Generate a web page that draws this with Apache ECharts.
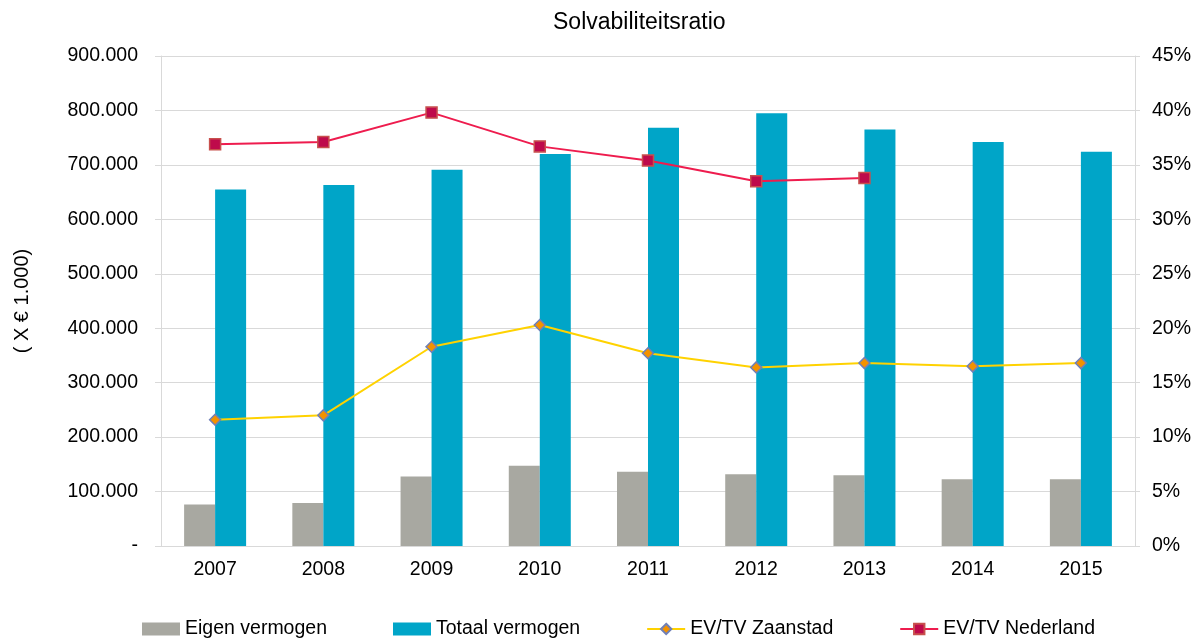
<!DOCTYPE html>
<html>
<head>
<meta charset="utf-8">
<script src="https://cdn.jsdelivr.net/npm/echarts@6/dist/echarts.min.js"></script>
<style>
  html, body { margin: 0; padding: 0; background: #fff; }
  #chart { width: 1201px; height: 638px; }
</style>
</head>
<body>
<div id="chart"></div>
<script>
// Data
const years = ['2007', '2008', '2009', '2010', '2011', '2012', '2013', '2014', '2015'];
const eigenVermogen = [76000, 79000, 127500, 147500, 136500, 132000, 130000, 122500, 122500];
const totaalVermogen = [655000, 663000, 691000, 720000, 768000, 795000, 765000, 742000, 724000];
const evtvZaanstad = [0.116, 0.120, 0.183, 0.203, 0.177, 0.164, 0.168, 0.165, 0.168];
const evtvNederland = [0.369, 0.371, 0.398, 0.367, 0.354, 0.335, 0.338, null, null];

const font = 'Liberation Sans, Arial, sans-serif';
const gridColor = '#d9d9d9';

function formatThousands(v) {
    if (v === 0) return '-';
    return String(v).replace(/\B(?=(\d{3})+(?!\d))/g, '.');
}

const chart = echarts.init(document.getElementById('chart'));
chart.setOption({
    animation: false,
    textStyle: {fontFamily: font},
    title: {
        text: 'Solvabiliteitsratio',
        left: 548,
        top: 6,
        textStyle: {fontFamily: font, fontSize: 23, fontWeight: 'normal', color: '#000'}
    },
    legend: {
        top: 614,
        left: 137,
        itemWidth: 38,
        itemHeight: 13,
        itemGap: 66,
        textStyle: {fontFamily: font, fontSize: 19.5, color: '#000'},
        data: [
            {name: 'Eigen vermogen', icon: 'rect'},
            {name: 'Totaal vermogen', icon: 'rect'},
            'EV/TV Zaanstad',
            'EV/TV Nederland'
        ]
    },
    grid: {left: 161, right: 66, top: 56, bottom: 92},
    xAxis: {
        type: 'category',
        data: years,
        axisLine: {lineStyle: {color: gridColor}},
        axisTick: {length: 6, lineStyle: {color: gridColor}},
        axisLabel: {fontFamily: font, fontSize: 19.5, color: '#000', margin: 14}
    },
    yAxis: [
        {
            type: 'value',
            min: 0,
            max: 900000,
            interval: 100000,
            name: '( X € 1.000)',
            nameLocation: 'middle',
            nameGap: 129,
            nameRotate: 90,
            nameTextStyle: {fontFamily: font, fontSize: 20, color: '#000'},
            axisLine: {show: true, lineStyle: {color: gridColor}},
            axisTick: {show: true, length: 6, lineStyle: {color: gridColor}},
            axisLabel: {fontFamily: font, fontSize: 19.5, color: '#000', margin: 23, formatter: formatThousands},
            splitLine: {lineStyle: {color: gridColor, width: 1}}
        },
        {
            type: 'value',
            min: 0,
            max: 0.45,
            interval: 0.05,
            axisLine: {show: true, lineStyle: {color: gridColor}},
            axisTick: {show: true, length: 5, lineStyle: {color: gridColor}},
            axisLabel: {
                fontFamily: font, fontSize: 19.5, color: '#000', margin: 17,
                formatter: v => Math.round(v * 100) + '%'
            },
            splitLine: {show: false}
        }
    ],
    series: [
        {
            name: 'Eigen vermogen',
            type: 'bar',
            data: eigenVermogen,
            barWidth: 31,
            barGap: '0%',
            itemStyle: {color: '#a8a8a1'}
        },
        {
            name: 'Totaal vermogen',
            type: 'bar',
            data: totaalVermogen,
            barWidth: 31,
            barGap: '0%',
            itemStyle: {color: '#00a5c8'}
        },
        {
            name: 'EV/TV Zaanstad',
            type: 'line',
            yAxisIndex: 1,
            data: evtvZaanstad,
            symbol: 'diamond',
            symbolSize: 11,
            lineStyle: {color: '#ffd200', width: 2},
            itemStyle: {color: '#f39200', borderColor: '#6f80b8', borderWidth: 1.5}
        },
        {
            name: 'EV/TV Nederland',
            type: 'line',
            yAxisIndex: 1,
            data: evtvNederland,
            symbol: 'rect',
            symbolSize: 11,
            lineStyle: {color: '#ee1c4e', width: 2},
            itemStyle: {color: '#be0a4b', borderColor: '#c8504d', borderWidth: 1.5}
        }
    ]
});
</script>
</body>
</html>
